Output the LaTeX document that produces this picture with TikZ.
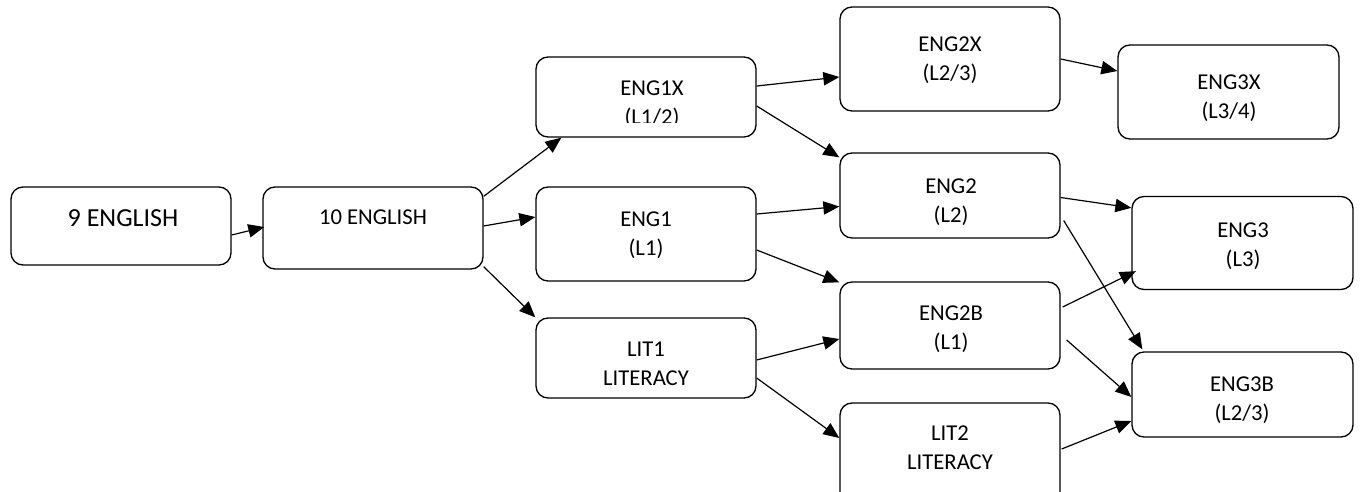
\documentclass[tikz,border=0pt]{standalone}
\usepackage{fontspec}
\setmainfont{Carlito}
\usetikzlibrary{arrows.meta,calc}
\tikzset{
  bx/.style 2 args={draw, line width=1pt, rounded corners=9pt, minimum width=#1pt, minimum height=#2pt, inner sep=0pt},
  txt/.style={align=center, inner sep=0pt, font=\fontsize{17}{21.75}\selectfont},
  bigtxt/.style={inner sep=0pt, font=\fontsize{19.5}{23}\selectfont},
  arr/.style={line width=0.9pt, -{Triangle[length=12pt,width=10pt]}}
}
\begin{document}
\begin{tikzpicture}[x=0.75pt,y=-0.75pt]
\useasboundingbox (0,0) rectangle (1362,492);
\clip (0,0) rectangle (1362,492);
% boxes
\node[bx={165}{58.5}] (e9) at (121,226) {};
\node[bx={165}{61.5}] (e10) at (373,228) {};
\node[bx={165}{60}] (x1) at (646,97) {};
\node[bx={165}{70.5}] (e1) at (646,234) {};
\node[bx={165}{60}] (l1) at (646,358) {};
\node[bx={165}{78}] (x2) at (950,59) {};
\node[bx={165}{63.75}] (e2) at (950,195.5) {};
\node[bx={165}{65.25}] (b2) at (950,325.5) {};
\node[bx={165}{80.25}] (l2) at (950,456.5) {};
\node[bx={165.75}{70.5}] (x3) at (1228.5,92) {};
\node[bx={165.75}{69.75}] (e3) at (1242.5,243) {};
\node[bx={165.75}{63.75}] (b3) at (1242.5,394.5) {};
% texts
\node[bigtxt] (t9) at (123,218) {9 ENGLISH};
\node[txt] (t10) at (373,217) {10 ENGLISH};
\begin{scope}
\clip (536,57) rectangle (756,122);
\node[txt] (tx1) at (652,104) {ENG1X\\(L1/2)};
\end{scope}
\node[txt] (te1) at (646,235.5) {ENG1\\(L1)};
\node[txt] (tl1) at (646,364) {LIT1\\LITERACY};
\node[txt] (tx2) at (950,60.2) {ENG2X\\(L2/3)};
\node[txt] (te2) at (951,202.5) {ENG2\\(L2)};
\node[txt] (tb2) at (951,329.5) {ENG2B\\(L1)};
\node[txt] (tl2) at (950,448) {LIT2\\LITERACY};
\node[txt] (tx3) at (1229,98) {ENG3X\\(L3/4)};
\node[txt] (te3) at (1243,246.6) {ENG3\\(L3)};
\node[txt] (tb3) at (1242,400) {ENG3B\\(L2/3)};
% connectors
\draw[arr] ($(e9.east)+(0,9)$) -- ($(e10.west)+(2,-1)$);
\draw[arr] ($(e10.north east)+(0,10)$) -- ($(x1.south west)+(26,0)$);
\draw[arr] ($(e10.east)+(0,-2)$) -- ($(e1.west)+(0,-17)$);
\draw[arr] ($(e10.south east)+(0,-3)$) -- ($(l1.north west)+(0,0)$);
\draw[arr] ($(x1.east)+(0,-11)$) -- ($(x2.west)+(0,18)$);
\draw[arr] ($(x1.east)+(0,9)$) -- ($(e2.north west)+(0,5)$);
\draw[arr] (x2.east) -- ($(x3.west)+(0,-21)$);
\draw[arr] ($(e1.east)+(0,-20)$) -- ($(e2.west)+(0,11)$);
\draw[arr] ($(e1.east)+(0,16)$) -- ($(b2.north west)+(0,1)$);
\draw[arr] ($(l1.east)+(0,2)$) -- ($(b2.west)+(0,13.5)$);
\draw[arr] ($(l1.east)+(0,20)$) -- ($(l2.west)+(0,-18.5)$);
\draw[arr] ($(e2.east)+(0,2)$) -- ($(e3.north west)+(0,12)$);
\draw[arr] ($(e2.east)+(3,25)$) -- ($(b3.north west)+(11,-2)$);
\draw[arr] ($(b2.east)+(2,-18.5)$) -- ($(e3.south west)+(4.5,-19)$);
\draw[arr] ($(b2.east)+(6,14.5)$) -- ($(b3.west)+(0,2.5)$);
\draw[arr] ($(l2.east)+(1,-7.5)$) -- ($(b3.west)+(0,26.5)$);
\end{tikzpicture}
\end{document}
